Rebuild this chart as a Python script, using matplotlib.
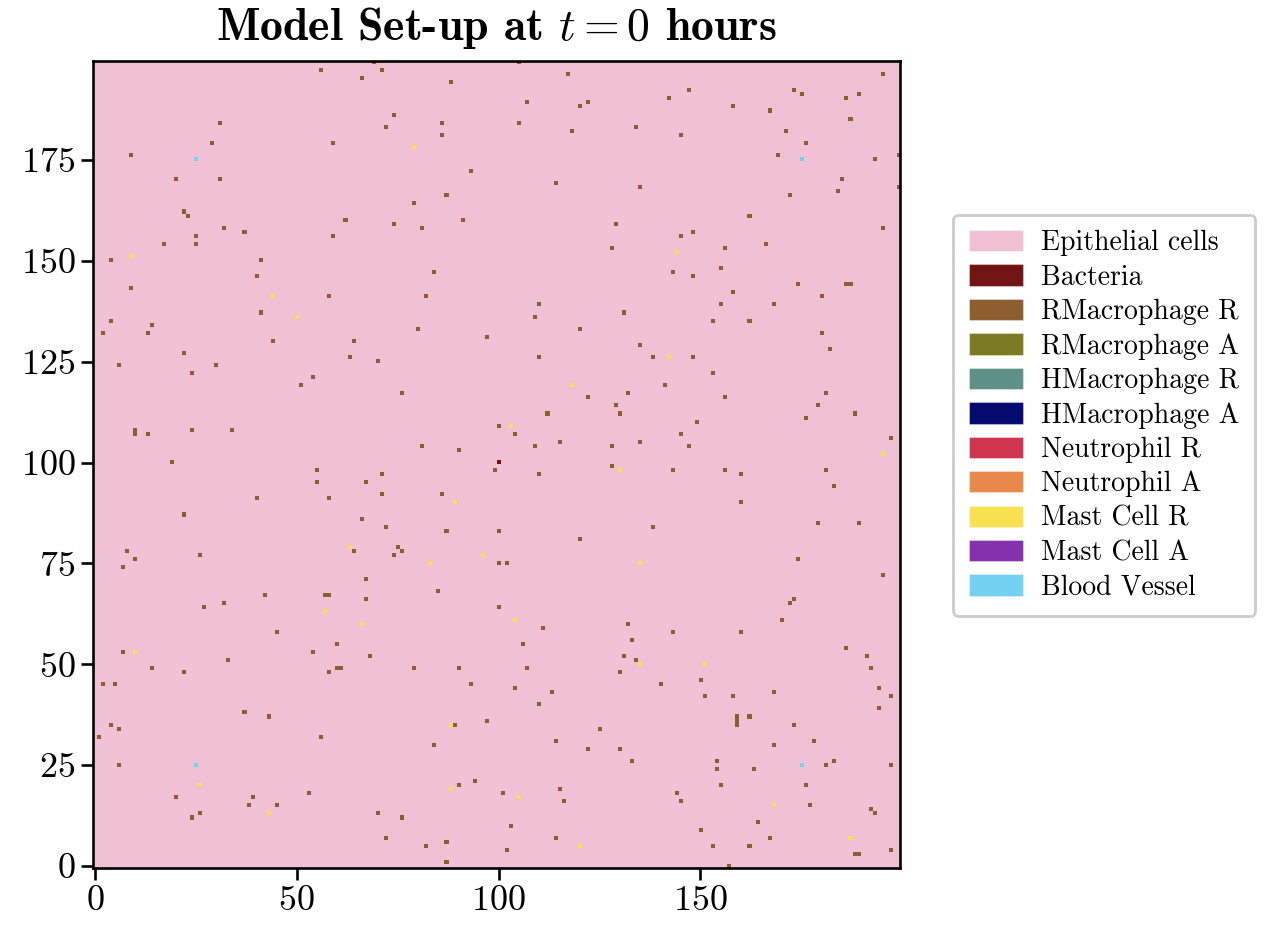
import numpy as np
import matplotlib
matplotlib.use('Agg')
import matplotlib.pyplot as plt
from matplotlib.colors import ListedColormap
import matplotlib.patches as mpatches

plt.rcParams['font.family'] = 'serif'
plt.rcParams['font.serif'] = ['cmr10']
plt.rcParams['mathtext.fontset'] = 'cm'
plt.rcParams['axes.formatter.use_mathtext'] = True

# grid size and cell types
grid_size = 200
labels = ['Epithelial cells', 'Bacteria', 'RMacrophage R', 'RMacrophage A',
          'HMacrophage R', 'HMacrophage A', 'Neutrophil R', 'Neutrophil A',
          'Mast Cell R', 'Mast Cell A', 'Blood Vessel']
colors = ['#f0c0d4', '#721414', '#8c5e30', '#7c7a22', '#5e9088', '#050a6e',
          '#d2344f', '#e8884a', '#f8e050', '#8530ad', '#72d2f0']

# (x, y) positions of the cells at t = 0
bacteria = [(100, 100)]
blood_vessel = [(25, 175), (175, 175), (25, 25), (175, 25)]
mast_cell_r = [(9, 151), (44, 141), (50, 136), (79, 178), (63, 79), (118, 119), (103, 109),
               (130, 98), (89, 90), (83, 75), (96, 77), (142, 126), (195, 102), (135, 75),
               (144, 152), (57, 63), (66, 60), (10, 53), (26, 20), (43, 13), (104, 61),
               (88, 35), (88, 19), (105, 17), (120, 5), (135, 50), (151, 50), (168, 15), (187, 7)]
rmacrophage_r = [
    (56, 197), (66, 195), (31, 184), (29, 179), (59, 179), (9, 176), (20, 170), (31, 170),
    (22, 162), (23, 161), (32, 158), (37, 157), (62, 160), (25, 156), (59, 156), (17, 154),
    (25, 154), (4, 150), (41, 150), (40, 146), (9, 143), (58, 141), (41, 137), (4, 135),
    (14, 134), (2, 132), (13, 132),
    (69, 199), (105, 199), (71, 197), (88, 194), (117, 196), (107, 189), (120, 188), (122, 189),
    (74, 186), (72, 183), (86, 184), (86, 181), (105, 184), (118, 182), (134, 183), (93, 172),
    (114, 169), (87, 166), (79, 164), (74, 159), (81, 158), (91, 160), (129, 159), (128, 153),
    (84, 147), (82, 141), (110, 139), (109, 136), (131, 137), (80, 133), (120, 133),
    (195, 196), (147, 192), (142, 190), (173, 192), (175, 191), (186, 190), (189, 191),
    (158, 188), (167, 187), (187, 185), (145, 181), (171, 182), (176, 179), (169, 176),
    (193, 175), (199, 176), (185, 170), (184, 167), (172, 166), (199, 168), (135, 168),
    (162, 161), (195, 158), (145, 156), (148, 157), (166, 154), (156, 153), (155, 148),
    (143, 147), (148, 146), (174, 144), (186, 144), (187, 144), (158, 142), (180, 141),
    (155, 139), (168, 139), (153, 135), (162, 135), (180, 132),
    (44, 130), (64, 130), (22, 127), (6, 124), (30, 124), (24, 122), (63, 126), (54, 121),
    (51, 119), (10, 107), (10, 108), (13, 107), (24, 108), (34, 108), (19, 100), (55, 98),
    (55, 95), (67, 95), (40, 91), (58, 91), (22, 87), (66, 86), (64, 78), (8, 78), (10, 76),
    (7, 74), (26, 77), (67, 71), (42, 67), (57, 67), (58, 67), (67, 66), (32, 65),
    (97, 131), (70, 125), (110, 126), (76, 117), (122, 116), (132, 117), (129, 114),
    (130, 112), (112, 112), (100, 109), (104, 107), (81, 104), (90, 103), (109, 104),
    (115, 105), (128, 104), (99, 98), (110, 97), (128, 99), (71, 97), (71, 92), (86, 92),
    (72, 84), (87, 83), (100, 83), (120, 81), (75, 79), (76, 78), (74, 77), (100, 75),
    (102, 75), (85, 68),
    (135, 129), (138, 126), (148, 126), (182, 128), (153, 122), (141, 119), (156, 116),
    (181, 117), (179, 114), (188, 112), (176, 111), (149, 110), (145, 107), (135, 105),
    (147, 104), (197, 106), (143, 98), (156, 98), (160, 97), (181, 98), (183, 94), (160, 90),
    (138, 84), (179, 85), (189, 85), (174, 76), (195, 72), (173, 66), (172, 65),
    (27, 64), (45, 58), (60, 55), (54, 53), (7, 53), (33, 51), (14, 49), (22, 48), (60, 49),
    (61, 49), (58, 48), (2, 45), (5, 45), (37, 38), (43, 37), (4, 35), (6, 34), (1, 32),
    (56, 32), (6, 25), (20, 17), (39, 17), (53, 18), (38, 15), (45, 15), (26, 13), (24, 12),
    (100, 64), (111, 59), (132, 60), (106, 55), (133, 56), (68, 52), (79, 49), (90, 49),
    (107, 49), (131, 52), (134, 51), (130, 48), (93, 45), (104, 44), (113, 43), (110, 40),
    (89, 35), (97, 36), (125, 34), (84, 30), (114, 31), (122, 29), (130, 29), (133, 26),
    (90, 20), (94, 21), (101, 18), (115, 19), (116, 16), (70, 13), (76, 12), (103, 10),
    (72, 7), (82, 5), (87, 6), (114, 7), (102, 4), (87, 1),
    (170, 61), (143, 58), (160, 58), (186, 54), (191, 52), (192, 49), (140, 45), (150, 46),
    (151, 42), (158, 42), (168, 43), (194, 44), (197, 42), (194, 39), (159, 35), (159, 36),
    (159, 37), (162, 37), (173, 35), (178, 31), (168, 30), (154, 26), (154, 24), (163, 24),
    (181, 25), (183, 26), (197, 25), (155, 20), (176, 20), (144, 18), (145, 16), (177, 15),
    (192, 14), (193, 13), (164, 11), (150, 9), (167, 7), (153, 5), (162, 5), (188, 3),
    (189, 3), (197, 4), (157, 0)]

# build the grid (0 = epithelial)
grid = np.zeros((grid_size, grid_size), dtype=int)
for code, cells in [(2, rmacrophage_r), (8, mast_cell_r), (1, bacteria), (10, blood_vessel)]:
    for x, y in cells:
        grid[y, x] = code

fig = plt.figure(figsize=(12.69, 9.26), dpi=100)
ax = fig.add_axes([0.0733, 0.0626, 0.636, 0.8715])
ax.imshow(grid, cmap=ListedColormap(colors), vmin=0, vmax=len(colors) - 1,
          origin='lower', interpolation='nearest')
ax.set_aspect('auto')
ax.set_xticks([0, 50, 100, 150])
ax.set_yticks(np.arange(0, 200, 25))
ax.tick_params(labelsize=26, width=1.9, length=8.5, pad=4)
for s in ax.spines.values():
    s.set_linewidth(1.9)
ax.set_title(r'Model Set-up at $t=0$ hours', fontsize=33, fontfamily='cmb10', pad=15)

handles = [mpatches.Patch(facecolor=c, edgecolor=(1, 1, 1, 0.35), linewidth=0.8, label=l)
           for c, l in zip(colors, labels)]
leg = ax.legend(handles=handles, loc='center left', bbox_to_anchor=(1.066, 0.561), fontsize=20.0,
                handlelength=1.95, handleheight=0.8, handletextpad=0.67, labelspacing=0.29,
                borderpad=0.55, borderaxespad=0, edgecolor='0.8', framealpha=1)
leg.get_frame().set_linewidth(2)

plt.savefig('out.png', dpi=100)
